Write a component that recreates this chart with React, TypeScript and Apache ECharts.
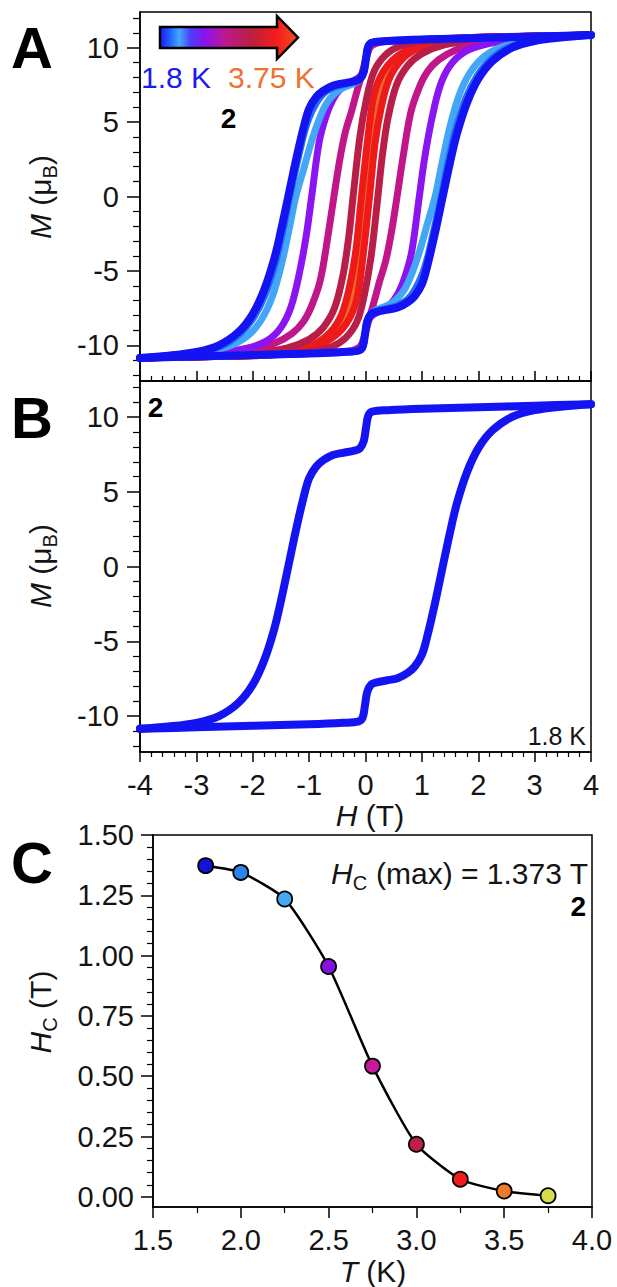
import React, { useEffect, useRef } from "react";
import * as echarts from "echarts";

const FONT = "'Liberation Sans', Arial, Helvetica, sans-serif";

// ---- axis ticks ----
const H_TICKS = [-4, -3, -2, -1, 0, 1, 2, 3, 4];
const M_TICKS = [-10, -5, 0, 5, 10];
const T_TICKS = [1.5, 2.0, 2.5, 3.0, 3.5, 4.0];
const HC_TICKS = [0, 0.25, 0.5, 0.75, 1.0, 1.25, 1.5];

// ---- panel A / B : hysteresis loops (H in T, M in muB) ----
const LOOP_TEMPS = ["1.8 K", "2.0 K", "2.25 K", "2.5 K", "2.75 K", "3.0 K", "3.25 K", "3.5 K", "3.75 K"];
const LOOP_COLORS = ["#1414f2", "#2470f5", "#44a6f6", "#8a14f2", "#c0168a", "#b81e48", "#ee1a1a", "#f06a24", "#e0cf48"];

const DOWN_1_8 = [[4,10.85],[3,10.75],[2,10.65],[1,10.55],[0.4,10.45],[0.12,10.35],[0.05,10.1],[0.01,9.3],[-0.03,8.4],[-0.1,7.9],[-0.2,7.75],[-0.4,7.6],[-0.58,7.45],[-0.75,7.1],[-0.87,6.7],[-1.0,5.9],[-1.1,4.6],[-1.23,2.5],[-1.37,0],[-1.5,-2.3],[-1.62,-4.2],[-1.8,-6.3],[-2.0,-7.9],[-2.25,-9.1],[-2.6,-10.0],[-3.0,-10.45],[-3.5,-10.7],[-4,-10.85]];
const UP_1_8 = [[-4,-10.85],[-3,-10.75],[-2,-10.65],[-1,-10.55],[-0.4,-10.45],[-0.12,-10.35],[-0.05,-10.1],[-0.01,-9.3],[0.03,-8.4],[0.1,-7.9],[0.2,-7.75],[0.4,-7.6],[0.58,-7.45],[0.75,-7.1],[0.87,-6.7],[1.0,-5.9],[1.1,-4.6],[1.23,-2.5],[1.37,0],[1.5,2.3],[1.62,4.2],[1.8,6.3],[2.0,7.9],[2.25,9.1],[2.6,10.0],[3.0,10.45],[3.5,10.7],[4,10.85]];

const DOWN_2_0 = [[4,10.85],[3,10.75],[2,10.65],[1,10.55],[0.4,10.45],[0.12,10.35],[0.05,10.1],[0.01,9.3],[-0.03,8.4],[-0.1,7.85],[-0.2,7.7],[-0.4,7.5],[-0.58,7.3],[-0.75,6.9],[-0.87,6.3],[-1.0,5.3],[-1.1,4.1],[-1.21,2.3],[-1.345,0],[-1.47,-2.4],[-1.6,-4.5],[-1.78,-6.6],[-1.98,-8.1],[-2.22,-9.2],[-2.55,-10.05],[-3.0,-10.5],[-3.5,-10.7],[-4,-10.85]];
const UP_2_0 = [[-4,-10.85],[-3,-10.75],[-2,-10.65],[-1,-10.55],[-0.4,-10.45],[-0.12,-10.35],[-0.05,-10.1],[-0.01,-9.3],[0.03,-8.4],[0.1,-7.85],[0.2,-7.7],[0.4,-7.5],[0.58,-7.3],[0.75,-6.9],[0.87,-6.3],[1.0,-5.3],[1.1,-4.1],[1.21,-2.3],[1.345,0],[1.47,2.4],[1.6,4.5],[1.78,6.6],[1.98,8.1],[2.22,9.2],[2.55,10.05],[3.0,10.5],[3.5,10.7],[4,10.85]];

const DOWN_2_25 = [[4,10.85],[3,10.75],[2,10.65],[1,10.55],[0.4,10.45],[0.12,10.35],[0.05,10.1],[0.01,9.3],[-0.03,8.4],[-0.1,7.85],[-0.2,7.6],[-0.4,7.3],[-0.55,6.9],[-0.7,6.2],[-0.82,5.2],[-0.95,3.8],[-1.1,1.8],[-1.235,0],[-1.35,-2.1],[-1.48,-4.4],[-1.65,-6.7],[-1.85,-8.3],[-2.1,-9.4],[-2.45,-10.1],[-3.0,-10.5],[-3.5,-10.7],[-4,-10.85]];
const UP_2_25 = [[-4,-10.85],[-3,-10.75],[-2,-10.65],[-1,-10.55],[-0.4,-10.45],[-0.12,-10.35],[-0.05,-10.1],[-0.01,-9.3],[0.03,-8.4],[0.1,-7.85],[0.2,-7.6],[0.4,-7.3],[0.55,-6.9],[0.7,-6.2],[0.82,-5.2],[0.95,-3.8],[1.1,-1.8],[1.235,0],[1.35,2.1],[1.48,4.4],[1.65,6.7],[1.85,8.3],[2.1,9.4],[2.45,10.1],[3.0,10.5],[3.5,10.7],[4,10.85]];

const DOWN_2_5 = [[4,10.85],[3,10.75],[2,10.65],[1,10.55],[0.4,10.45],[0.12,10.35],[0.05,10.1],[0.01,9.3],[-0.04,8.4],[-0.12,8.0],[-0.3,7.6],[-0.45,7.2],[-0.58,6.5],[-0.7,5.4],[-0.82,3.7],[-0.955,0],[-1.05,-2.6],[-1.17,-5.1],[-1.32,-7.4],[-1.5,-8.8],[-1.75,-9.7],[-2.1,-10.2],[-2.6,-10.5],[-3.2,-10.7],[-4,-10.85]];
const UP_2_5 = [[-4,-10.85],[-3,-10.75],[-2,-10.65],[-1,-10.55],[-0.4,-10.45],[-0.12,-10.35],[-0.05,-10.1],[-0.01,-9.3],[0.04,-8.4],[0.12,-8.0],[0.3,-7.6],[0.45,-7.2],[0.58,-6.5],[0.7,-5.4],[0.82,-3.7],[0.955,0],[1.05,2.6],[1.17,5.1],[1.32,7.4],[1.5,8.8],[1.75,9.7],[2.1,10.2],[2.6,10.5],[3.2,10.7],[4,10.85]];

const DOWN_2_75 = [[4,10.85],[3,10.78],[2,10.7],[1.3,10.6],[0.7,10.5],[0.3,10.4],[0.1,10.1],[0.02,9.4],[-0.06,8.3],[-0.15,7.1],[-0.25,5.7],[-0.36,4.3],[-0.46,2.4],[-0.56,0],[-0.66,-2.5],[-0.8,-5.6],[-0.95,-7.3],[-1.1,-8.4],[-1.3,-9.2],[-1.6,-9.85],[-2.0,-10.3],[-2.5,-10.55],[-3.0,-10.7],[-4,-10.85]];
const UP_2_75 = [[-4,-10.85],[-3,-10.78],[-2,-10.7],[-1.3,-10.6],[-0.7,-10.5],[-0.3,-10.4],[-0.1,-10.1],[-0.02,-9.4],[0.06,-8.3],[0.15,-7.1],[0.25,-5.7],[0.36,-4.3],[0.46,-2.4],[0.56,0],[0.66,2.5],[0.8,5.6],[0.95,7.3],[1.1,8.4],[1.3,9.2],[1.6,9.85],[2.0,10.3],[2.5,10.55],[3.0,10.7],[4,10.85]];

const DOWN_3_0 = [[4,10.85],[3,10.78],[2,10.7],[1.5,10.6],[1.0,10.45],[0.6,10.1],[0.35,9.5],[0.15,8.4],[0.02,6.6],[-0.1,4.0],[-0.22,0],[-0.3,-2.8],[-0.4,-5.3],[-0.55,-7.5],[-0.75,-8.8],[-1.0,-9.6],[-1.4,-10.2],[-2.0,-10.5],[-3.0,-10.7],[-4,-10.85]];
const UP_3_0 = [[-4,-10.85],[-3,-10.78],[-2,-10.7],[-1.5,-10.6],[-1.0,-10.45],[-0.6,-10.1],[-0.35,-9.5],[-0.15,-8.4],[-0.02,-6.6],[0.1,-4.0],[0.22,0],[0.3,2.8],[0.4,5.3],[0.55,7.5],[0.75,8.8],[1.0,9.6],[1.4,10.2],[2.0,10.5],[3.0,10.7],[4,10.85]];

const DOWN_3_25 = [[4,10.85],[3,10.78],[2,10.68],[1.4,10.5],[0.9,10.1],[0.55,9.4],[0.3,8.3],[0.15,6.8],[0.05,4.2],[-0.072,0],[-0.17,-3.6],[-0.28,-6.0],[-0.42,-7.9],[-0.62,-9.1],[-0.9,-9.9],[-1.3,-10.3],[-2.0,-10.6],[-3.0,-10.75],[-4,-10.85]];
const UP_3_25 = [[-4,-10.85],[-3,-10.78],[-2,-10.68],[-1.4,-10.5],[-0.9,-10.1],[-0.55,-9.4],[-0.3,-8.3],[-0.15,-6.8],[-0.05,-4.2],[0.072,0],[0.17,3.6],[0.28,6.0],[0.42,7.9],[0.62,9.1],[0.9,9.9],[1.3,10.3],[2.0,10.6],[3.0,10.75],[4,10.85]];

const DOWN_3_5 = [[4,10.85],[3,10.78],[2,10.68],[1.4,10.5],[0.9,10.1],[0.55,9.3],[0.32,8.2],[0.16,6.4],[0.06,3.4],[-0.024,0],[-0.11,-3.5],[-0.22,-6.1],[-0.37,-8.0],[-0.57,-9.2],[-0.87,-9.95],[-1.3,-10.35],[-2.0,-10.6],[-3.0,-10.75],[-4,-10.85]];
const UP_3_5 = [[-4,-10.85],[-3,-10.78],[-2,-10.68],[-1.4,-10.5],[-0.9,-10.1],[-0.55,-9.3],[-0.32,-8.2],[-0.16,-6.4],[-0.06,-3.4],[0.024,0],[0.11,3.5],[0.22,6.1],[0.37,8.0],[0.57,9.2],[0.87,9.95],[1.3,10.35],[2.0,10.6],[3.0,10.75],[4,10.85]];

const DOWN_3_75 = [[4,10.85],[3,10.78],[2,10.68],[1.4,10.5],[0.9,10.1],[0.55,9.3],[0.33,8.2],[0.18,6.5],[0.08,3.6],[-0.005,0],[-0.09,-3.6],[-0.19,-6.3],[-0.34,-8.1],[-0.55,-9.3],[-0.85,-10.0],[-1.3,-10.35],[-2.0,-10.6],[-3.0,-10.75],[-4,-10.85]];
const UP_3_75 = [[-4,-10.85],[-3,-10.78],[-2,-10.68],[-1.4,-10.5],[-0.9,-10.1],[-0.55,-9.3],[-0.33,-8.2],[-0.18,-6.5],[-0.08,-3.6],[0.005,0],[0.09,3.6],[0.19,6.3],[0.34,8.1],[0.55,9.3],[0.85,10.0],[1.3,10.35],[2.0,10.6],[3.0,10.75],[4,10.85]];

const DOWN_BRANCHES = [DOWN_1_8, DOWN_2_0, DOWN_2_25, DOWN_2_5, DOWN_2_75, DOWN_3_0, DOWN_3_25, DOWN_3_5, DOWN_3_75];
const UP_BRANCHES = [UP_1_8, UP_2_0, UP_2_25, UP_2_5, UP_2_75, UP_3_0, UP_3_25, UP_3_5, UP_3_75];

// ---- panel C : coercive field vs temperature ----
const T_POINTS = [1.8, 2.0, 2.25, 2.5, 2.75, 3.0, 3.25, 3.5, 3.75];
const HC_VALUES = [1.373, 1.345, 1.235, 0.955, 0.542, 0.218, 0.073, 0.024, 0.005];
const HC_COLORS = ["#1212d8", "#2a86ee", "#46a8f0", "#8512e0", "#c8189c", "#c01e46", "#f21c1c", "#ee7a2a", "#d6dc4c"];

const BLACK = "#000";
const TXT = "#141414";
const TICK_FONT = 29;

function hAxis(gridIndex: number, showLabels: boolean, inside: boolean) {
  return {
    type: "value",
    gridIndex,
    min: -4,
    max: 4,
    interval: 1,
    axisLine: { show: true, onZero: false, lineStyle: { color: BLACK, width: 1.5 } },
    axisTick: { show: true, inside, length: 10, lineStyle: { color: BLACK, width: 1.5 } },
    minorTick: { show: true, splitNumber: 5, length: 5, lineStyle: { color: BLACK, width: 1.2 } },
    axisLabel: {
      show: showLabels,
      margin: 18,
      color: TXT,
      fontSize: TICK_FONT,
      fontFamily: FONT,
      customValues: H_TICKS,
    },
    splitLine: { show: false },
    minorSplitLine: { show: false },
  };
}

function mAxis(gridIndex: number) {
  return {
    type: "value",
    gridIndex,
    min: -12.4,
    max: 12.4,
    minInterval: 5,
    maxInterval: 5,
    axisLine: { show: true, onZero: false, lineStyle: { color: BLACK, width: 1.5 } },
    axisTick: { show: true, inside: false, length: 13, customValues: M_TICKS, lineStyle: { color: BLACK, width: 1.5 } },
    minorTick: { show: true, splitNumber: 5, length: 7, lineStyle: { color: BLACK, width: 1.2 } },
    axisLabel: { margin: 21, color: TXT, fontSize: TICK_FONT, fontFamily: FONT, customValues: M_TICKS },
    splitLine: { show: false },
    minorSplitLine: { show: false },
  };
}

function buildOption() {
  const series: any[] = [];
  // panel A: hottest first so the coldest loops sit on top
  for (let i = LOOP_TEMPS.length - 1; i >= 0; i--) {
    const width = i === 0 ? 8 : 7;
    [DOWN_BRANCHES[i], UP_BRANCHES[i]].forEach((branch, k) => {
      series.push({
        name: LOOP_TEMPS[i] + (k === 0 ? " down" : " up"),
        type: "line",
        xAxisIndex: 0,
        yAxisIndex: 0,
        data: branch,
        showSymbol: false,
        symbol: "none",
        smooth: 0.35,
        silent: true,
        lineStyle: { color: LOOP_COLORS[i], width, cap: "round", join: "round" },
      });
    });
  }
  // panel B: 1.8 K only
  [DOWN_BRANCHES[0], UP_BRANCHES[0]].forEach((branch, k) => {
    series.push({
      name: "B " + LOOP_TEMPS[0] + (k === 0 ? " down" : " up"),
      type: "line",
      xAxisIndex: 1,
      yAxisIndex: 1,
      data: branch,
      showSymbol: false,
      symbol: "none",
      smooth: 0.35,
      silent: true,
      lineStyle: { color: LOOP_COLORS[0], width: 8, cap: "round", join: "round" },
    });
  });
  // panel C
  series.push({
    name: "Hc",
    type: "line",
    xAxisIndex: 2,
    yAxisIndex: 2,
    smooth: 0.2,
    symbol: "circle",
    symbolSize: 15,
    lineStyle: { color: BLACK, width: 2.5 },
    itemStyle: { borderColor: BLACK, borderWidth: 1.8 },
    data: T_POINTS.map((t, i) => ({
      value: [t, HC_VALUES[i]],
      itemStyle: { color: HC_COLORS[i], borderColor: BLACK, borderWidth: 1.8 },
    })),
  });

  const gridBase = { show: true, borderColor: BLACK, borderWidth: 1.5, backgroundColor: "transparent", containLabel: false, outerBoundsMode: "none" };

  const mainTok = (size: number, italic: boolean, lh: number) => ({
    fontSize: size,
    fontFamily: FONT,
    fill: TXT,
    fontStyle: italic ? "italic" : "normal",
    lineHeight: lh,
  });
  const sub = (size: number, lh: number) => ({ fontSize: size, fontFamily: FONT, fill: TXT, verticalAlign: "bottom", lineHeight: lh });

  const richAxisText = (text: string, size = 30) => ({
    text,
    fontSize: size,
    fontFamily: FONT,
    fill: TXT,
    align: "center",
    verticalAlign: "middle",
    rich: { i: mainTok(size, true, 40), n: mainTok(size, false, 40), s: sub(Math.round(size * 0.66), 20) },
  });

  const bold = (text: string, x: number, y: number, size: number, align = "center", lineHeight?: number) => ({
    type: "text",
    x,
    y,
    style: { text, fontSize: size, fontWeight: "bold", fontFamily: FONT, fill: BLACK, align, verticalAlign: "middle", lineHeight: lineHeight || size },
  });

  const graphic: any[] = [
    bold("A", 11, 47, 58, "left"),
    bold("B", 11, 417, 58, "left"),
    bold("C", 11, 862, 58, "left"),
    {
      type: "polygon",
      shape: { points: [[160, 27], [277, 27], [277, 16], [298, 37.5], [277, 59], [277, 48], [160, 48]] },
      style: {
        fill: {
          type: "linear", x: 0, y: 0, x2: 1, y2: 0,
          colorStops: [
            { offset: 0, color: "#1a1aff" },
            { offset: 0.07, color: "#2060ff" },
            { offset: 0.14, color: "#45a8ff" },
            { offset: 0.22, color: "#4a40ff" },
            { offset: 0.32, color: "#8a12f0" },
            { offset: 0.48, color: "#c0188c" },
            { offset: 0.66, color: "#b82040" },
            { offset: 0.84, color: "#f41c1c" },
            { offset: 1, color: "#f05020" },
          ],
        },
        stroke: BLACK,
        lineWidth: 2.5,
      },
    },
    { type: "text", x: 141, y: 77, style: { text: "1.8 K", fontSize: 30, fontFamily: FONT, fill: "#1c1cf0", align: "left", verticalAlign: "middle" } },
    { type: "text", x: 228, y: 77, style: { text: "3.75 K", fontSize: 30, fontFamily: FONT, fill: "#f07032", align: "left", verticalAlign: "middle" } },
    bold("2", 228.5, 118, 28),
    bold("2", 155.5, 407, 28),
    bold("2", 586, 906, 28, "right", 22),
    { type: "text", x: 586, y: 736, style: { text: "1.8 K", fontSize: 25, fontFamily: FONT, fill: TXT, align: "right", verticalAlign: "middle" } },
    { type: "text", x: 588, y: 873, style: { ...richAxisText("{i|H}{s|C}{n| (max) = 1.373 T}", 30), align: "right" } },
    { type: "text", x: 370, y: 815, style: richAxisText("{i|H}{n| (T)}") },
    { type: "text", x: 373, y: 1271, style: richAxisText("{i|T}{n| (K)}") },
    { type: "text", x: 40, y: 197, rotation: Math.PI / 2, style: richAxisText("{i|M}{n| (μ}{s|B}{n|)}") },
    { type: "text", x: 40, y: 566, rotation: Math.PI / 2, style: richAxisText("{i|M}{n| (μ}{s|B}{n|)}") },
    { type: "text", x: 40, y: 1012, rotation: Math.PI / 2, style: richAxisText("{i|H}{s|C}{n| (T)}") },
  ];

  return {
    animation: false,
    backgroundColor: "#fff",
    grid: [
      { ...gridBase, left: 140, top: 12, width: 451, height: 369 },
      { ...gridBase, left: 140, top: 381, width: 451, height: 371 },
      { ...gridBase, left: 153, top: 835, width: 439, height: 372 },
    ],
    xAxis: [
      hAxis(0, false, true),
      hAxis(1, true, false),
      {
        type: "value",
        gridIndex: 2,
        min: 1.5,
        max: 4,
        interval: 0.5,
        axisLine: { show: true, onZero: false, lineStyle: { color: BLACK, width: 1.5 } },
        axisTick: { show: true, inside: false, length: 11, lineStyle: { color: BLACK, width: 1.5 } },
        minorTick: { show: true, splitNumber: 2, length: 6, lineStyle: { color: BLACK, width: 1.2 } },
        axisLabel: { margin: 18, color: TXT, fontSize: TICK_FONT, fontFamily: FONT, customValues: T_TICKS, formatter: (v: number) => v.toFixed(1) },
        splitLine: { show: false },
      },
    ],
    yAxis: [
      mAxis(0),
      mAxis(1),
      {
        type: "value",
        gridIndex: 2,
        min: -0.042,
        max: 1.5,
        minInterval: 0.25,
        maxInterval: 0.25,
        axisLine: { show: true, onZero: false, lineStyle: { color: BLACK, width: 1.5 } },
        axisTick: { show: true, inside: false, length: 12, customValues: HC_TICKS, lineStyle: { color: BLACK, width: 1.5 } },
        minorTick: { show: true, splitNumber: 5, length: 6, lineStyle: { color: BLACK, width: 1.2 } },
        axisLabel: { margin: 19, color: TXT, fontSize: TICK_FONT, fontFamily: FONT, customValues: HC_TICKS, formatter: (v: number) => v.toFixed(2) },
        splitLine: { show: false },
      },
    ],
    graphic,
    series,
  };
}

export default function App() {
  const ref = useRef<HTMLDivElement>(null);
  useEffect(() => {
    document.body.style.margin = "0";
    const chart = echarts.init(ref.current as HTMLDivElement, null, { renderer: "svg" });
    chart.setOption(buildOption() as any);
    return () => chart.dispose();
  }, []);
  return <div ref={ref} style={{ position: "absolute", left: 0, top: 0, width: 617, height: 1287 }} />;
}
